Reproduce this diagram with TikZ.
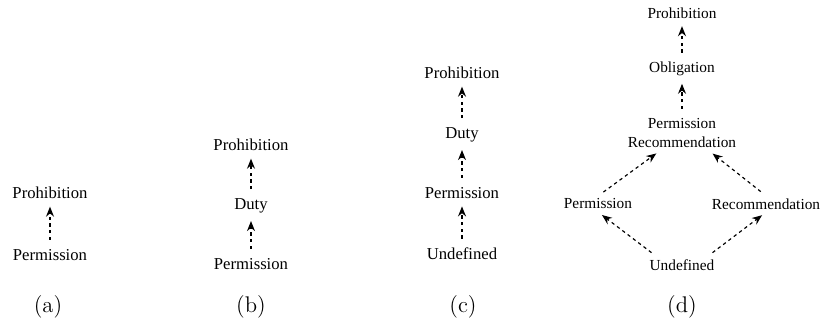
\documentclass[tikz,border=0pt]{standalone}
\usepackage{fontspec}
\newfontfamily\lawfont{Liberation Serif}
\usetikzlibrary{arrows.meta}

\tikzset{
  state/.style={font=\lawfont\fontsize{10}{11}\selectfont,inner sep=1.5pt,align=center},
  small state/.style={state,font=\lawfont\fontsize{9.2}{11.4}\selectfont},
  order/.style={-{Stealth[length=6pt,width=4.8pt]},line width=0.7pt,
    dash pattern=on 2pt off 2pt,shorten <=4pt,shorten >=3pt},
  caption/.style={font=\fontsize{13.6}{16}\selectfont}
}

\begin{document}
\begin{tikzpicture}[x=0.6pt,y=-0.6pt]
\useasboundingbox (0,0) rectangle (820,325);
% (a)
\node[state] (a-proh) at (50,193) {Prohibition};
\node[state] (a-perm) at (50,255) {Permission};
\draw[order] (a-perm) -- (a-proh);
\node[caption] (a-cap) at (48,307) {(a)};
% (b)
\node[state] (b-proh) at (251,145) {Prohibition};
\node[state] (b-duty) at (251,206) {Duty};
\node[state] (b-perm) at (251,264) {Permission};
\draw[order] (b-perm) -- (b-duty);
\draw[order] (b-duty) -- (b-proh);
\node[caption] (b-cap) at (251,307) {(b)};
% (c)
\node[state] (c-proh) at (462,73) {Prohibition};
\node[state] (c-duty) at (462,135) {Duty};
\node[state] (c-perm) at (462,193) {Permission};
\node[state] (c-und) at (462,254) {Undefined};
\draw[order] (c-und) -- (c-perm);
\draw[order] (c-perm) -- (c-duty);
\draw[order] (c-duty) -- (c-proh);
\node[caption] (c-cap) at (463,307) {(c)};
% (d)
\node[small state] (d-proh) at (682,13) {Prohibition};
\node[small state] (d-obl) at (682,69) {Obligation};
\node[small state] (d-pr) at (682,133) {Permission\\Recommendation};
\node[small state] (d-perm) at (598,204) {Permission};
\node[small state] (d-rec) at (766,204) {Recommendation};
\node[small state] (d-und) at (682,265) {Undefined};
\draw[order] (d-obl) -- (d-proh);
\draw[order] (d-pr) -- (d-obl);
\draw[order] (d-perm.north) -- ([xshift=-13pt]d-pr.south);
\draw[order] (d-rec.north) -- ([xshift=16pt]d-pr.south);
\draw[order] ([xshift=6pt]d-und.north west) -- (d-perm.south);
\draw[order] ([xshift=-6pt]d-und.north east) -- (d-rec.south);
\node[caption] (d-cap) at (682,307) {(d)};
\end{tikzpicture}
\end{document}
